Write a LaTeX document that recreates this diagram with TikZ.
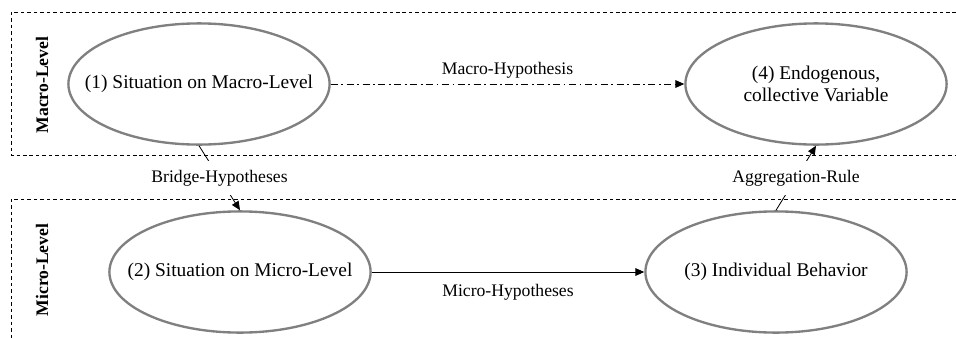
\documentclass[tikz,border=0pt]{standalone}
\usepackage{fontspec}
\setmainfont{Liberation Serif}
\usetikzlibrary{shapes.geometric,arrows.meta}

\begin{document}
\begin{tikzpicture}[x=0.85pt,y=-0.85pt,
    >={Triangle[length=7.5pt,width=6.5pt]},
    state/.style={ellipse,draw=black!50,line width=2pt,minimum width=222pt,
      minimum height=103pt,inner xsep=-40pt,inner ysep=0pt,align=center,
      font=\fontsize{16.5}{19}\selectfont},
    level/.style={rotate=90,font=\fontsize{15}{18}\selectfont\bfseries},
    hyp/.style={font=\fontsize{15}{18}\selectfont},
    link/.style={->,line width=0.7pt},
    area/.style={dash pattern=on 3pt off 2.5pt,line width=0.7pt}]
      \useasboundingbox (0,0) rectangle (956,338);
      \draw [area] (956,12) -| (11,155) -- (956,155);
      \draw [area] (956,199) -| (11,338);
      \node [level] (macrolbl) at (42,85) {Macro-Level};
      \node [level] (microlbl) at (42,270) {Micro-Level};
      \node [state] (sitmacro) at (199,84) {(1) Situation on Macro-Level};
      \node [state] (endovar)  at (816,84) {(4) Endogenous,\\collective Variable};
      \node [state] (sitmicro) at (240,272) {(2) Situation on Micro-Level};
      \node [state] (behavior) at (776,272) {(3) Individual Behavior};
      \draw [link,dash pattern=on 6pt off 3pt on 1.5pt off 3pt] (sitmacro) -- (endovar)
            node [hyp,midway,above=1pt] {Macro-Hypothesis};
      \draw [link] (sitmicro) -- (behavior)
            node [hyp,midway,below=7pt] {Micro-Hypotheses};
      \draw [link] (sitmacro.south) -- (sitmicro.north)
            node [hyp,midway,fill=white,inner ysep=8pt] {Bridge-Hypotheses};
      \draw [link] (behavior.north) -- (endovar.south)
            node [hyp,midway,fill=white,inner ysep=8pt] {Aggregation-Rule};
    \end{tikzpicture}
\end{document}
